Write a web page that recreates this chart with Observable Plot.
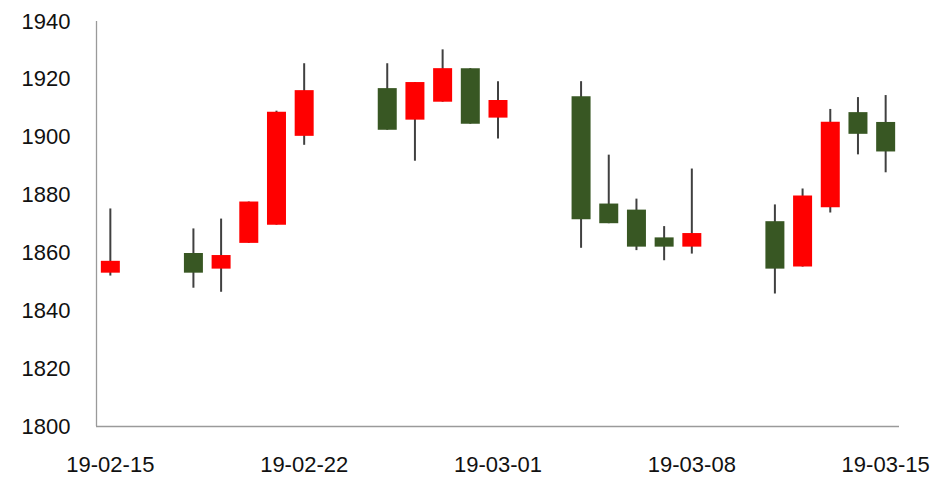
<!DOCTYPE html>
<html>
<head>
<meta charset="utf-8">
<script src="https://cdn.jsdelivr.net/npm/d3@7"></script>
<script src="https://cdn.jsdelivr.net/npm/@observablehq/plot@0.6"></script>
<style>
  html, body { margin: 0; padding: 0; background: #fff; }
</style>
</head>
<body>
<div id="chart"></div>
<script>
const dates = ["2019-02-15","2019-02-18","2019-02-19","2019-02-20","2019-02-21","2019-02-22",
  "2019-02-25","2019-02-26","2019-02-27","2019-02-28","2019-03-01",
  "2019-03-04","2019-03-05","2019-03-06","2019-03-07","2019-03-08",
  "2019-03-11","2019-03-12","2019-03-13","2019-03-14","2019-03-15"];
const openVals  = [1853.0,1859.8,1854.4,1863.3,1869.6,1900.3,1916.8,1905.9,1912.1,1923.7,1906.6,1914.0,1876.9,1874.8,1865.2,1862.0,1870.8,1855.1,1875.6,1908.5,1905.1];
const highVals  = [1875.2,1868.3,1871.7,1877.6,1909.0,1925.4,1925.4,1918.9,1930.2,1923.7,1919.2,1919.2,1893.8,1878.6,1869.1,1889.0,1876.6,1882.1,1909.6,1913.7,1914.4];
const lowVals   = [1852.0,1847.8,1846.4,1863.3,1869.6,1897.2,1902.4,1891.7,1912.1,1904.5,1899.4,1861.6,1870.1,1860.8,1857.3,1859.6,1845.8,1855.1,1873.8,1893.9,1887.7];
const closeVals = [1857.1,1853.0,1859.1,1877.6,1908.6,1916.1,1902.4,1918.9,1923.7,1904.5,1912.7,1871.5,1870.1,1862.0,1862.0,1866.7,1854.4,1879.7,1905.2,1901.0,1894.9];
const xTicks = ["2019-02-15","2019-02-22","2019-03-01","2019-03-08","2019-03-15"];
const yTicks = [1800,1820,1840,1860,1880,1900,1920,1940];

const data = dates.map((d, i) => ({
  date: new Date(d + "T00:00:00Z"),
  open: openVals[i], high: highVals[i], low: lowVals[i], close: closeVals[i]
}));

const xStart = new Date("2019-02-14T12:00:00Z");
const xEnd = new Date("2019-03-15T12:00:00Z");
const fmt = d3.utcFormat("%y-%m-%d");

const chart = Plot.plot({
  width: 937,
  height: 477,
  marginLeft: 96,
  marginRight: 38,
  marginTop: 21,
  marginBottom: 51,
  style: {fontFamily: "'Liberation Sans', Arial, sans-serif", fontSize: "22px", color: "#111", background: "#fff"},
  x: {type: "utc", domain: [xStart, xEnd]},
  y: {domain: [1800, 1940]},
  marks: [
    Plot.ruleY([1800], {stroke: "#9a9a9a", strokeWidth: 1.3}),
    Plot.ruleX([xStart], {stroke: "#9a9a9a", strokeWidth: 1.3}),
    Plot.axisX(xTicks.map(t => new Date(t + "T00:00:00Z")), {tickSize: 0, tickPadding: 30, tickFormat: fmt, label: null, fill: "#111"}),
    Plot.axisY(yTicks, {tickSize: 0, tickPadding: 26, tickFormat: d => String(d), label: null, fill: "#111"}),
    Plot.ruleX(data, {x: "date", y1: "low", y2: "high", stroke: "#404040", strokeWidth: 2}),
    Plot.ruleX(data, {x: "date", y1: "open", y2: "close",
      stroke: d => d.close > d.open ? "#ff0000" : "#385723", strokeWidth: 19})
  ]
});
document.getElementById("chart").appendChild(chart);
</script>
</body>
</html>
